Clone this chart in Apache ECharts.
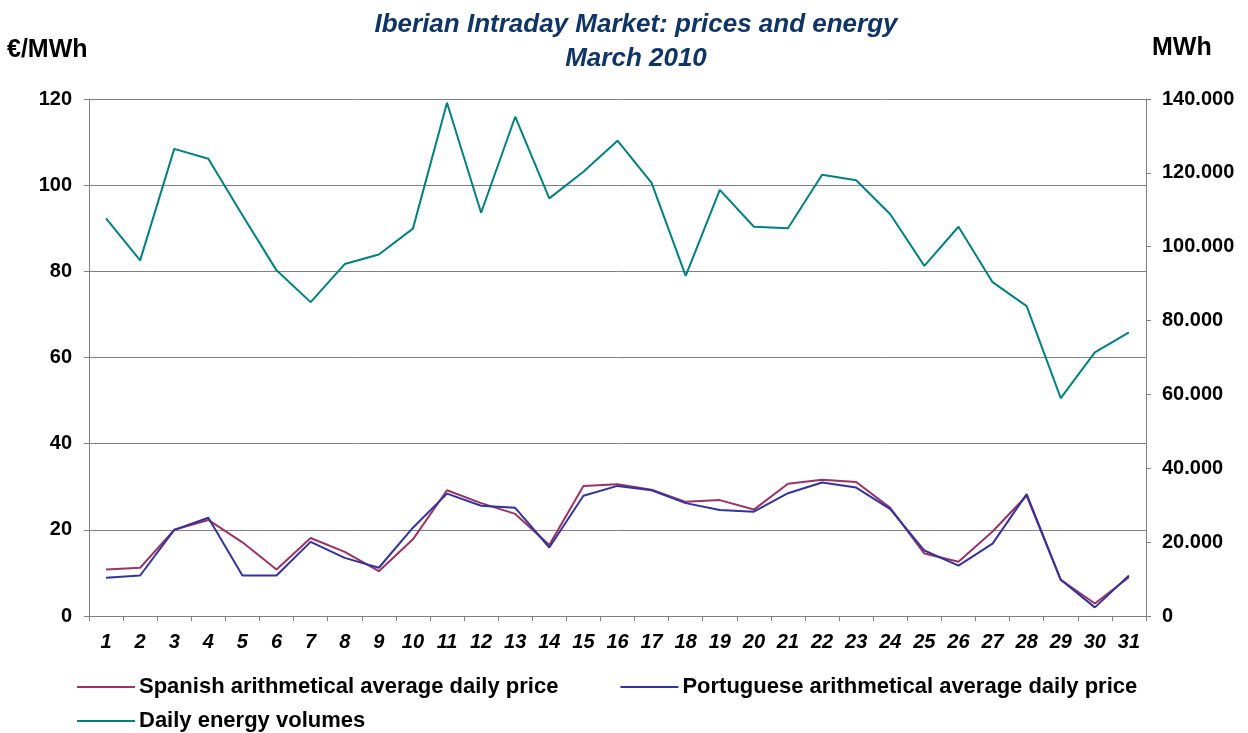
<!DOCTYPE html>
<html>
<head>
<meta charset="utf-8">
<script src="https://cdn.jsdelivr.net/npm/echarts@6/dist/echarts.min.js"></script>
<style>
  html, body { margin: 0; padding: 0; background: #fff; }
  #chart { width: 1248px; height: 733px; }
</style>
</head>
<body>
<div id="chart"></div>
<script>
// days of March 2010
const days = Array.from({ length: 31 }, (_, i) => String(i + 1));

// €/MWh, left axis
const spanishPrice = [
  10.8, 11.2, 20.0, 22.3, 17.1, 10.8, 18.1, 14.9, 10.4, 17.8,
  29.2, 26.2, 23.7, 16.5, 30.2, 30.6, 29.3, 26.5, 26.9, 24.7,
  30.7, 31.6, 31.1, 25.1, 14.5, 12.6, 19.6, 27.9, 8.4, 2.9, 9.0,
];
const portuguesePrice = [
  8.9, 9.4, 20.0, 22.8, 9.4, 9.4, 17.2, 13.5, 11.2, 20.5,
  28.4, 25.6, 25.1, 15.9, 27.9, 30.2, 29.2, 26.2, 24.6, 24.2,
  28.5, 31.0, 29.8, 24.8, 15.2, 11.7, 16.8, 28.3, 8.4, 2.0, 9.4,
];
// MWh, right axis
const energy = [
  107700, 96300, 126500, 123800, 108500, 93600, 85000, 95300, 97900, 104900,
  139000, 109200, 135200, 113100, 120300, 128700, 117300, 92100, 115400, 105400,
  105000, 119500, 118000, 108800, 94800, 105400, 90400, 83900, 59000, 71400, 76800,
];

const leftTicks = { min: 0, max: 120, interval: 20 };
const rightTicks = { min: 0, max: 140000, interval: 20000 };

const FONT = '"Liberation Sans", Arial, sans-serif';
const grey = '#808080';

const chart = echarts.init(document.getElementById('chart'));

const legendText = { fontFamily: FONT, fontSize: 22, fontWeight: 'bold', color: '#000', padding: [0, 0, 0, -1] };

chart.setOption({
  backgroundColor: '#fff',
  animation: false,
  title: {
    text: 'Iberian Intraday Market: prices and energy\nMarch 2010',
    left: 631,
    top: 3,
    textAlign: 'center',
    textStyle: {
      fontFamily: FONT, fontSize: 26, fontWeight: 'bold', fontStyle: 'italic',
      color: '#0f3466', lineHeight: 34,
    },
  },
  graphic: [
    {
      type: 'text', left: 7, top: 38,
      style: { text: '€/MWh', font: `bold 25px ${FONT}`, fill: '#000' },
    },
    {
      type: 'text', left: 1152, top: 36,
      style: { text: 'MWh', font: `bold 25px ${FONT}`, fill: '#000' },
    },
  ],
  legend: [
    {
      left: 77, top: 676, padding: 0,
      itemWidth: 58, itemHeight: 2, itemGap: 62,
      icon: 'rect',
      data: ['Spanish arithmetical average daily price', 'Portuguese arithmetical average daily price'],
      textStyle: legendText,
    },
    {
      left: 77, top: 710, padding: 0,
      itemWidth: 58, itemHeight: 2,
      icon: 'rect',
      data: ['Daily energy volumes'],
      textStyle: legendText,
    },
  ],
  grid: { left: 89, right: 102, top: 99, bottom: 117, containLabel: false },
  xAxis: {
    type: 'category',
    data: days,
    boundaryGap: true,
    axisLine: { lineStyle: { color: grey, width: 1 } },
    axisTick: { show: true, length: 5, interval: 0, lineStyle: { color: grey } },
    axisLabel: {
      interval: 0, margin: 16,
      fontFamily: FONT, fontSize: 20, fontWeight: 'bold', fontStyle: 'italic', color: '#000',
    },
    splitLine: { show: false },
  },
  yAxis: [
    {
      type: 'value',
      ...leftTicks,
      position: 'left',
      axisLine: { show: true, lineStyle: { color: grey } },
      axisTick: { show: true, length: 5, lineStyle: { color: grey } },
      axisLabel: { margin: 17, fontFamily: FONT, fontSize: 20, fontWeight: 'bold', color: '#000' },
      splitLine: { show: true, lineStyle: { color: grey, width: 1 } },
    },
    {
      type: 'value',
      ...rightTicks,
      position: 'right',
      axisLine: { show: true, lineStyle: { color: grey } },
      axisTick: { show: true, length: 5, lineStyle: { color: grey } },
      axisLabel: {
        margin: 16, fontFamily: FONT, fontSize: 20, fontWeight: 'bold', color: '#000',
        formatter: (v) => (v === 0 ? '0' : (v / 1000).toFixed(0) + '.000'),
      },
      splitLine: { show: false },
    },
  ],
  series: [
    {
      name: 'Spanish arithmetical average daily price',
      type: 'line',
      data: spanishPrice,
      symbol: 'none',
      itemStyle: { color: '#993366' },
      lineStyle: { color: '#993366', width: 2 },
      z: 2,
    },
    {
      name: 'Portuguese arithmetical average daily price',
      type: 'line',
      data: portuguesePrice,
      symbol: 'none',
      itemStyle: { color: '#333399' },
      lineStyle: { color: '#333399', width: 2 },
      z: 3,
    },
    {
      name: 'Daily energy volumes',
      type: 'line',
      yAxisIndex: 1,
      data: energy,
      symbol: 'none',
      itemStyle: { color: '#008080' },
      lineStyle: { color: '#008080', width: 2 },
      z: 4,
    },
  ],
});
</script>
</body>
</html>
